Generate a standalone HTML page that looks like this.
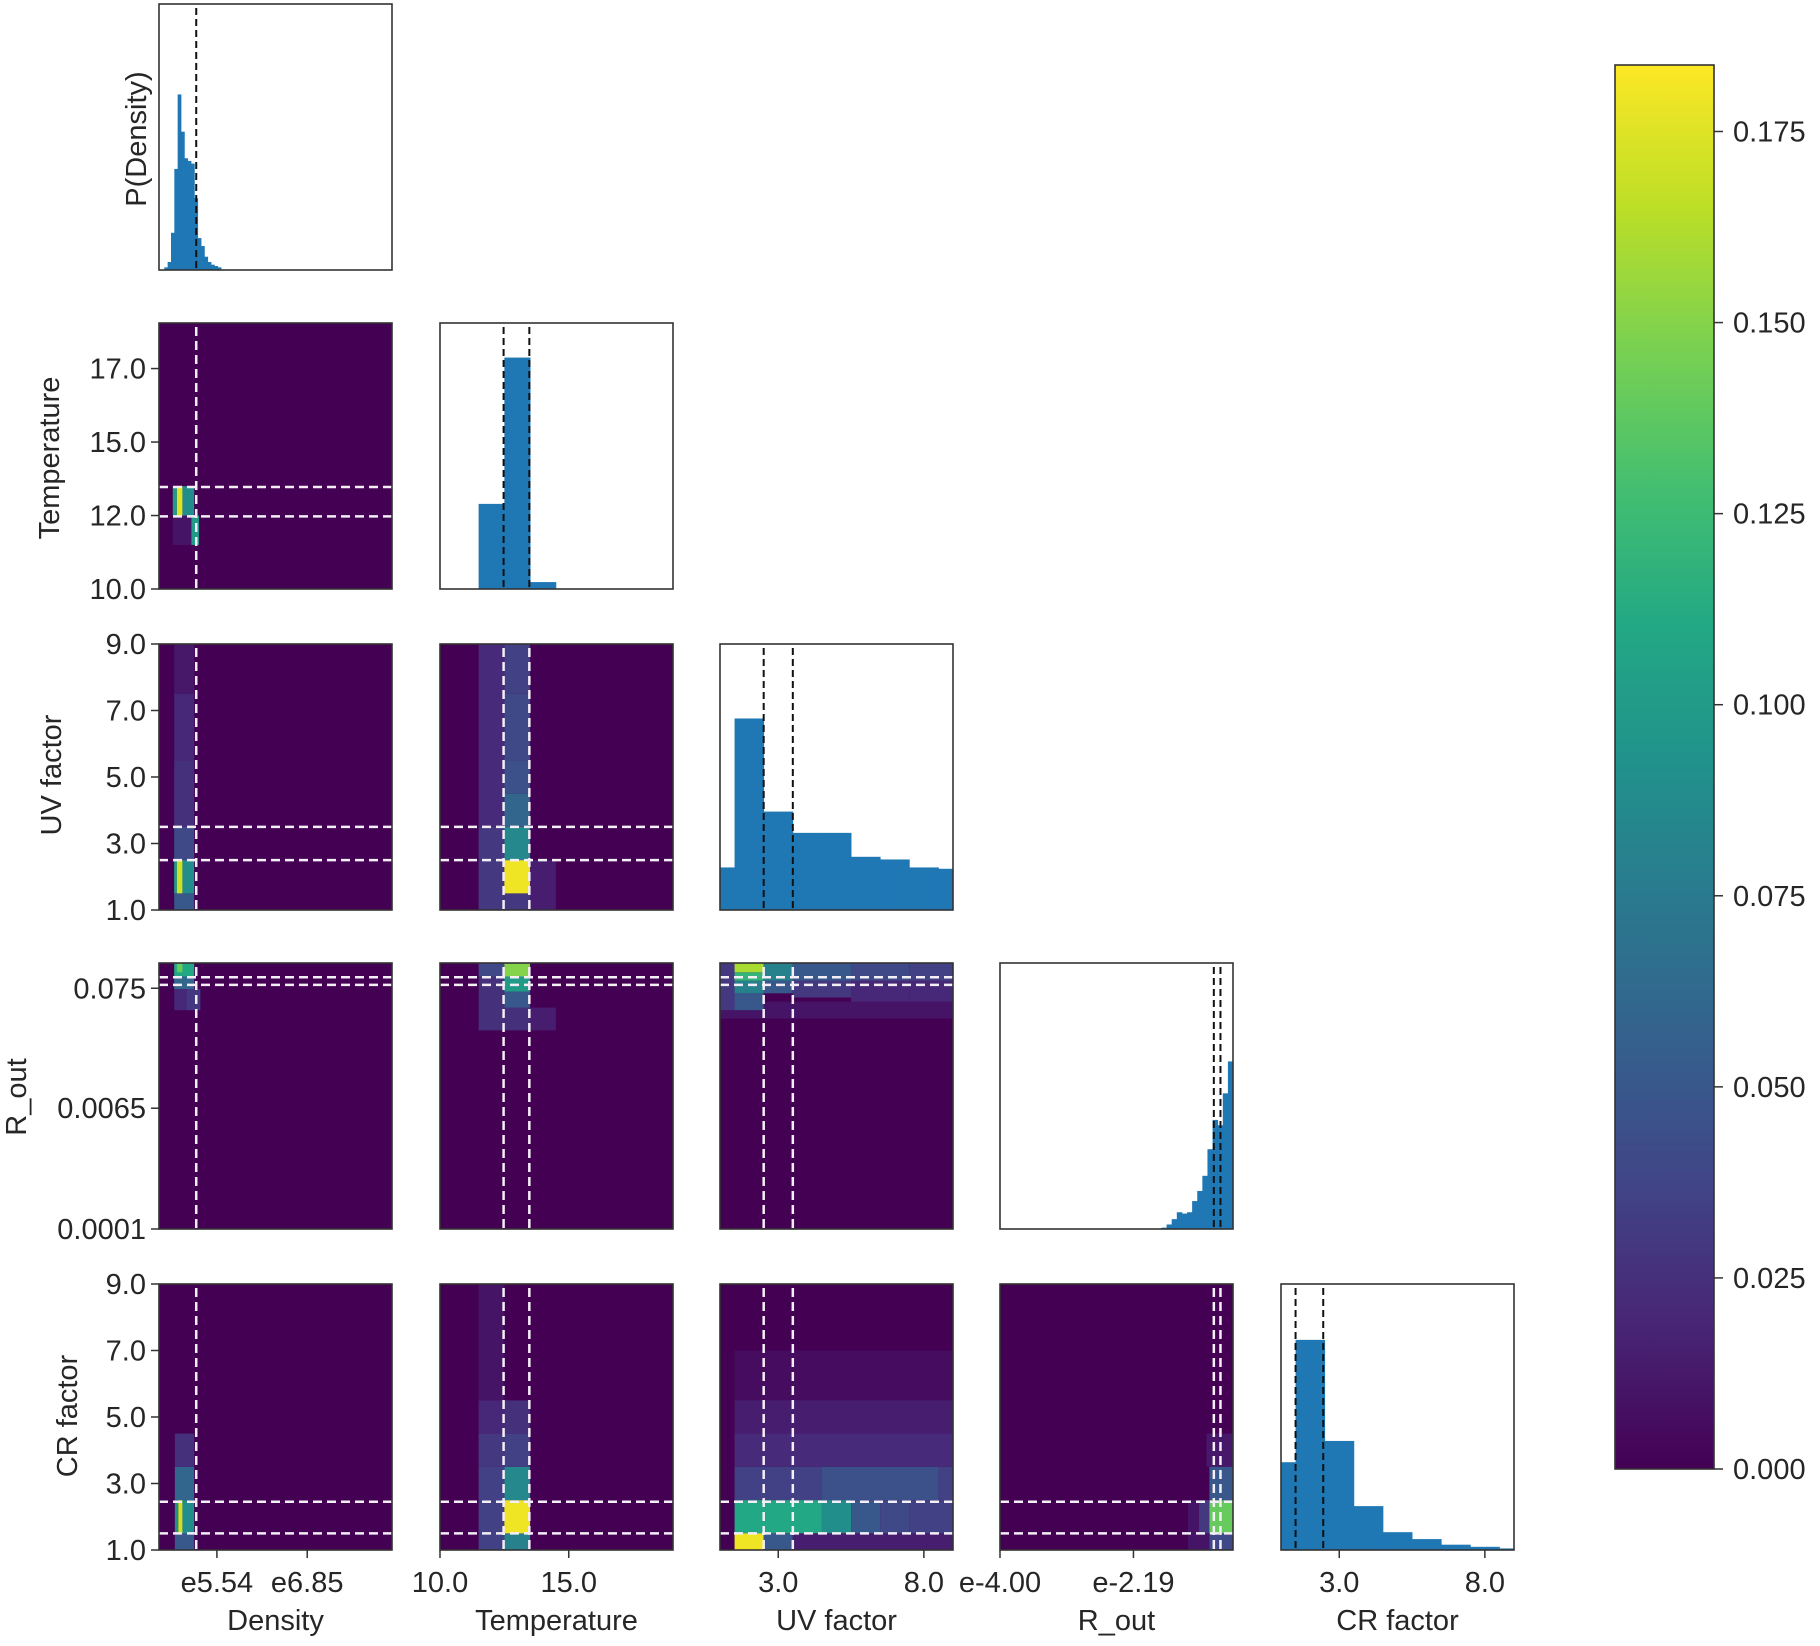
<!DOCTYPE html>
<html><head><meta charset="utf-8">
<style>
html,body{margin:0;padding:0;background:#fff;}
svg text{font-family:"Liberation Sans",sans-serif;fill:#262626;}
</style></head>
<body>
<svg id="chart" xmlns="http://www.w3.org/2000/svg" width="1820" height="1641" viewBox="0 0 1820 1641">
<defs>
<linearGradient id="viridis" x1="0" y1="1" x2="0" y2="0">
<stop offset="0" stop-color="#440154"/><stop offset="0.1" stop-color="#482475"/><stop offset="0.2" stop-color="#414487"/><stop offset="0.3" stop-color="#355f8d"/><stop offset="0.4" stop-color="#2a788e"/><stop offset="0.5" stop-color="#21918c"/><stop offset="0.6" stop-color="#22a884"/><stop offset="0.7" stop-color="#44bf70"/><stop offset="0.8" stop-color="#7ad151"/><stop offset="0.9" stop-color="#bddf26"/><stop offset="1" stop-color="#fde725"/>
</linearGradient>
</defs>
</svg>
<script>
// ---- data ----
const params = ['Density','Temperature','UV factor','R_out','CR factor'];
const paramKeys = ['density','temperature','uv-factor','r-out','cr-factor'];
const domains = [[4.70,8.08],[10,19.05],[1,9],[-4,-0.84],[1,9]];
const dashes = [[5.24],[12.47,13.47],[2.5,3.5],[-1.10,-1.01],[1.5,2.45]];

const densityEdgeStart = 4.777;
const densityBinWidth = 0.0484;
const densityHeights = [1,3,14,38,66,52,42,41,40,27,12,9,5,3,2,1.5,1];
const temperatureEdges = [11.5,12.5,13.5,14.5];
const temperatureHeights = [32,87,2.6];
const uvEdges = [1,1.5,2.5,3.5,4.5,5.5,6.5,7.5,8.5,9];
const uvHeights = [16,72,37,29,29,20,19,16,15.5];
const routEdgeStart = -1.81;
const routBinWidth = 0.0693;
const routHeights = [0.5,1.7,3.7,6.3,5.8,6.3,10.5,14.3,20,30,41,39,51,63];
const crEdges = [1,1.5,2.5,3.5,4.5,5.5,6.5,7.5,8.5,9];
const crHeights = [33,79,41,16.5,6.7,4.1,2,1.2,0.6];

// heatmap cells: [x0,x1,y0,y1,value]
const cellsDensityTemp = [[4.9,5.17,11.5,12.5,0.01],[4.90,4.96,12.5,13.5,0.10],[4.96,5.04,12.5,13.5,0.175],[5.04,5.21,12.5,13.5,0.09],[5.17,5.28,11.5,12.5,0.1]];
const cellsDensityUV = [[4.92,5.21,1,1.5,0.05],[4.92,4.96,1.5,2.5,0.10],[4.96,5.04,1.5,2.5,0.17],[5.04,5.21,1.5,2.5,0.09],[4.92,5.21,2.5,3.5,0.04],[4.92,5.21,3.5,5.5,0.025],[4.92,5.21,5.5,7.5,0.02],[4.92,5.21,7.5,9,0.012]];
const cellsTempUV = [[11.5,12.5,1,3.5,0.03],[11.5,12.5,3.5,9,0.022],[12.5,13.5,1,1.5,0.03],[12.5,13.5,1.5,2.5,0.18],[12.5,13.5,2.5,3.5,0.085],[12.5,13.5,3.5,4.5,0.06],[12.5,13.5,4.5,5.5,0.045],[12.5,13.5,5.5,7.5,0.04],[12.5,13.5,7.5,9,0.035],[13.5,14.5,1,2.5,0.015]];
const cellsDensityRout = [[4.92,5.1,-1.4,-1.15,0.02],[5.1,5.3,-1.4,-1.15,0.03],[4.92,5.21,-1.15,-1.0,0.06],[4.92,5.21,-1.0,-0.84,0.11],[4.96,5.04,-0.95,-0.84,0.14]];
const cellsTempRout = [[11.5,12.5,-1.64,-1.0,0.025],[11.5,12.5,-1.0,-0.84,0.04],[12.5,13.5,-1.64,-1.37,0.025],[12.5,13.5,-1.37,-1.18,0.05],[12.5,13.5,-1.18,-1.0,0.10],[12.5,13.5,-1.0,-0.84,0.15],[13.5,14.5,-1.64,-1.37,0.015]];
const cellsUVRout = [[1,9,-1.5,-1.3,0.01],[1,1.5,-1.4,-0.84,0.03],[1.5,2.5,-1.4,-1.2,0.05],[1.5,2.5,-1.2,-1.05,0.08],[1.5,2.5,-1.05,-0.95,0.12],[1.5,2.5,-0.95,-0.84,0.16],[2.5,3.5,-1.2,-1.05,0.05],[2.5,3.5,-1.05,-0.84,0.08],[3.5,5.5,-1.25,-1.05,0.03],[3.5,5.5,-1.05,-0.84,0.05],[5.5,7.5,-1.3,-1.05,0.02],[5.5,7.5,-1.05,-0.84,0.04],[7.5,9,-1.3,-1.05,0.02],[7.5,9,-1.05,-0.84,0.035]];
const cellsDensityCR = [[4.93,5.21,1,1.5,0.05],[4.93,4.98,1.5,2.5,0.09],[4.98,5.04,1.5,2.5,0.17],[5.04,5.21,1.5,2.5,0.09],[4.93,5.21,2.5,3.5,0.06],[4.93,5.21,3.5,4.5,0.025]];
const cellsTempCR = [[11.5,12.5,1,3.5,0.035],[11.5,12.5,3.5,4.5,0.03],[11.5,12.5,4.5,5.5,0.02],[11.5,12.5,5.5,9,0.01],[12.5,13.5,1,1.5,0.08],[12.5,13.5,1.5,2.5,0.18],[12.5,13.5,2.5,3.5,0.085],[12.5,13.5,3.5,4.5,0.035],[12.5,13.5,4.5,5.5,0.025]];
const cellsUVCR = [[1.5,9,5.5,7,0.006],[1.5,9,4.5,5.5,0.015],[1.5,9,3.5,4.5,0.022],[1.5,4.5,2.5,3.5,0.035],[4.5,8.5,2.5,3.5,0.045],[8.5,9,2.5,3.5,0.035],[1.5,4.5,1.5,2.5,0.11],[4.5,5.5,1.5,2.5,0.09],[5.5,6.5,1.5,2.5,0.05],[6.5,7.5,1.5,2.5,0.04],[7.5,9,1.5,2.5,0.035],[1.5,2.5,1,1.5,0.18],[2.5,3.5,1,1.5,0.05],[3.5,9,1,1.5,0.015]];
const cellsRoutCR = [[-1.45,-1.16,1,2.5,0.01],[-1.3,-1.16,1.5,2.5,0.03],[-1.2,-0.84,3.5,4.5,0.012],[-1.16,-0.84,1,1.5,0.04],[-1.16,-0.84,1.5,2.5,0.14],[-1.16,-0.84,2.5,3.5,0.05]];

const yTickValues = [null,[10,12.5,15,17.5],[1,3,5,7,9],[-4,-2.565,-1.14],[1,3,5,7,9]];
const yTickLabels = [null,['10.0','12.0','15.0','17.0'],['1.0','3.0','5.0','7.0','9.0'],['0.0001','0.0065','0.075'],['1.0','3.0','5.0','7.0','9.0']];
const xTickValues = [[5.54,6.85],[10,15],[3,8],[-4,-2.19],[3,8]];
const xTickLabels = [['e5.54','e6.85'],['10.0','15.0'],['3.0','8.0'],['e-4.00','e-2.19'],['3.0','8.0']];
const cbarTicks = [0,0.025,0.05,0.075,0.1,0.125,0.15,0.175];
const cbarLabels = ['0.000','0.025','0.050','0.075','0.100','0.125','0.150','0.175'];
const cbarMax = 0.1837;

// ---- layout ----
const colL = [159,440,720,1000,1281], rowT = [4,323,644,963,1284], PW = 233, PH = 266;
const svg = document.getElementById('chart');
const NS = 'http://www.w3.org/2000/svg';
function mk(tag, attrs, parent){const e=document.createElementNS(NS,tag);for(const k in attrs)e.setAttribute(k,attrs[k]);(parent||svg).appendChild(e);return e;}
function sx(i,v){const d=domains[i];return colL[i]+(v-d[0])/(d[1]-d[0])*PW;}
function sy(j,v){const d=domains[j];return rowT[j]+PH-(v-d[0])/(d[1]-d[0])*PH;}
const vStops=[[68,1,84],[72,36,117],[65,68,135],[53,95,141],[42,120,142],[33,145,140],[34,168,132],[68,191,112],[122,209,81],[189,223,38],[253,231,37]];
function viridis(v){let t=Math.max(0,Math.min(1,v/cbarMax))*10;const i=Math.min(9,Math.floor(t)),f=t-i;const a=vStops[i],b=vStops[i+1];return 'rgb('+a.map((c,k)=>Math.round(c+(b[k]-c)*f)).join(',')+')';}

const histEdges = [
  densityHeights.map((h,k)=>densityEdgeStart+k*densityBinWidth).concat([densityEdgeStart+densityHeights.length*densityBinWidth]),
  temperatureEdges, uvEdges,
  routHeights.map((h,k)=>routEdgeStart+k*routBinWidth).concat([routEdgeStart+routHeights.length*routBinWidth]),
  crEdges];
const histHeights = [densityHeights,temperatureHeights,uvHeights,routHeights,crHeights];
const cellSets = {'0-1':cellsDensityTemp,'0-2':cellsDensityUV,'1-2':cellsTempUV,'0-3':cellsDensityRout,'1-3':cellsTempRout,'2-3':cellsUVRout,'0-4':cellsDensityCR,'1-4':cellsTempCR,'2-4':cellsUVCR,'3-4':cellsRoutCR};

for(let j=0;j<5;j++){
  for(let i=0;i<=j;i++){
    const g = mk('g',{});
    const x0=colL[i], y0=rowT[j];
    const clipId='clip'+i+j;
    const cp=mk('clipPath',{id:clipId},g); mk('rect',{x:x0,y:y0,width:PW,height:PH},cp);
    if(i===j){
      
      
      mk('rect',{x:x0,y:y0,width:PW,height:PH,fill:'#fff'},g);
      const e=histEdges[i], h=histHeights[i];
      for(let k=0;k<h.length;k++){
        const bx=sx(i,e[k]), bw=sx(i,e[k+1])-bx, bh=h[k]/100*PH;
        const r=mk('rect',{x:bx,y:y0+PH-bh,width:bw+0.4,height:bh,fill:'#1f77b4','clip-path':'url(#'+clipId+')'},g);
        
        
      }
      dashes[i].forEach(v=>{const l=mk('line',{x1:sx(i,v),x2:sx(i,v),y1:y0+4,y2:y0+PH,stroke:'#111','stroke-width':2,'stroke-dasharray':'7,4'},g);
        
        });
    } else {
      
      
      mk('rect',{x:x0,y:y0,width:PW,height:PH,fill:'#440154'},g);
      (cellSets[i+'-'+j]||[]).forEach(c=>{
        const cx=sx(i,c[0]), cw=sx(i,c[1])-cx, cy=sy(j,c[3]), ch=sy(j,c[2])-cy;
        const r=mk('rect',{x:cx,y:cy,width:cw,height:ch,fill:viridis(c[4]),'clip-path':'url(#'+clipId+')'},g);
        
        
      });
      dashes[i].forEach(v=>{const l=mk('line',{x1:sx(i,v),x2:sx(i,v),y1:y0+4,y2:y0+PH,stroke:'#f4eef6','stroke-width':2.5,'stroke-dasharray':'9,5'},g);
        
        });
      dashes[j].forEach(v=>{const l=mk('line',{x1:x0,x2:x0+PW,y1:sy(j,v),y2:sy(j,v),stroke:'#f4eef6','stroke-width':2.5,'stroke-dasharray':'9,5'},g);
        
        });
    }
    const b=mk('rect',{x:x0,y:y0,width:PW,height:PH,fill:'none',stroke:'#333','stroke-width':1.6},g);
    
    
    if(i===0 && j>0){
      yTickValues[j].forEach((v,k)=>{const yy=sy(j,v);
        mk('line',{x1:x0-8,x2:x0,y1:yy,y2:yy,stroke:'#333','stroke-width':1.5},g);
        const t=mk('text',{x:x0-13,y:yy+10,'font-size':29,'text-anchor':'end'},g);
        t.textContent=yTickLabels[j][k];
        
        });
    }
    if(j===4){
      xTickValues[i].forEach((v,k)=>{const xx=sx(i,v);
        mk('line',{x1:xx,x2:xx,y1:y0+PH,y2:y0+PH+8,stroke:'#333','stroke-width':1.5},g);
        const t=mk('text',{x:xx,y:y0+PH+42,'font-size':29,'text-anchor':'middle'},g);
        t.textContent=xTickLabels[i][k];
        
        });
      const t=mk('text',{x:x0+PW/2,y:1630,'font-size':29,'text-anchor':'middle'},g);
      t.textContent=params[i];
      
      
    }
  }
}
const yTitles=[['P(Density)',146,139],['Temperature',59,458],['UV factor',61,775],['R_out',26,1097],['CR factor',77,1416]];
yTitles.forEach(a=>{const t=mk('text',{x:a[1],y:a[2],'font-size':29,'text-anchor':'middle',transform:'rotate(-90 '+a[1]+' '+a[2]+')'});
  t.textContent=a[0];
  
  });
const cb=mk('g',{});


const cbX=1615, cbW=99, cbTop=65, cbBot=1469;
mk('rect',{x:cbX,y:cbTop,width:cbW,height:cbBot-cbTop,fill:'url(#viridis)',stroke:'#333','stroke-width':1.6},cb);
cbarTicks.forEach((v,k)=>{const yy=cbBot-v/cbarMax*(cbBot-cbTop);
  mk('line',{x1:cbX+cbW,x2:cbX+cbW+9,y1:yy,y2:yy,stroke:'#333','stroke-width':1.5},cb);
  const t=mk('text',{x:cbX+cbW+19,y:yy+10,'font-size':29},cb);
  t.textContent=cbarLabels[k];
  
  });
</script>
</body></html>
